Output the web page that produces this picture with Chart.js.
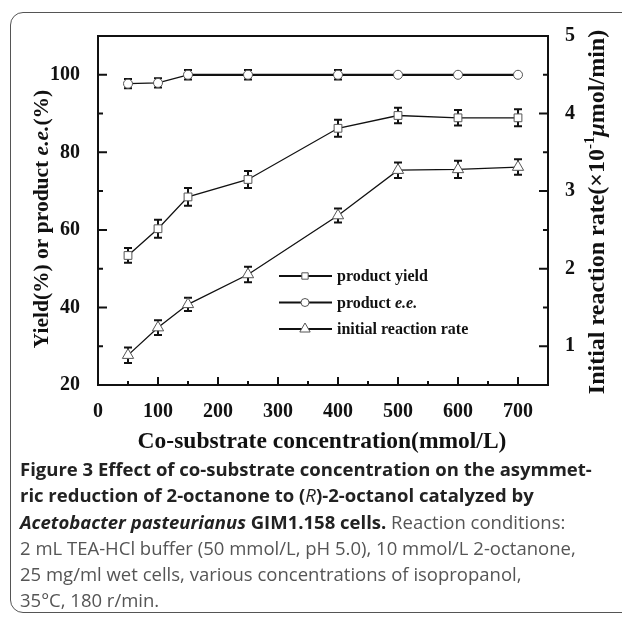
<!DOCTYPE html>
<html>
<head>
<meta charset="utf-8">
<script src="https://cdn.jsdelivr.net/npm/chart.js@4.4.1/dist/chart.umd.min.js"></script>
<style>
  html, body { margin: 0; padding: 0; background: #fff; }
  body { width: 622px; height: 622px; position: relative; overflow: hidden; }
  .card {
    position: absolute; left: 10px; top: 12px; width: 640px; height: 601px;
    border: 1.5px solid #555; border-radius: 13px; box-sizing: border-box;
  }
  .plot { position: absolute; left: 0; top: 0; width: 622px; height: 460px; }
  .caption {
    position: absolute; left: 20px; top: 456px;
    font-family: "Open Sans", sans-serif; font-size: 18.5px; line-height: 26.3px;
    color: #555; white-space: nowrap;
  }
  .caption .b { font-weight: bold; color: #222; }
  .caption .r { font-style: italic; font-weight: normal; }
</style>
</head>
<body>
<div class="card"></div>
<div class="plot"><canvas id="chart" width="622" height="460"></canvas></div>
<div class="caption">
  <div class="b">Figure 3 Effect of co-substrate concentration on the asymmet-</div>
  <div class="b">ric reduction of 2-octanone to (<span class="r">R</span>)-2-octanol catalyzed by</div>
  <div><span class="b"><i>Acetobacter pasteurianus</i> GIM1.158 cells.</span> Reaction conditions:</div>
  <div>2 mL TEA-HCl buffer (50 mmol/L, pH 5.0), 10 mmol/L 2-octanone,</div>
  <div>25 mg/ml wet cells, various concentrations of isopropanol,</div>
  <div>35°C, 180 r/min.</div>
</div>
<script>
// --- data ---
const concentrations = [50, 100, 150, 250, 400, 500, 600, 700];
const yieldValues = [53.4, 60.3, 68.5, 73.0, 86.2, 89.5, 88.9, 88.9];
const yieldErrors = [1.9, 2.3, 2.3, 2.2, 2.2, 2.0, 2.0, 2.2];
const eeValues = [97.7, 97.9, 100, 100, 100, 100, 100, 100];
const eeErrors = [1.2, 1.2, 1.2, 1.2, 1.2, 0, 0, 0];
const rateValues = [0.885, 1.24, 1.54, 1.925, 2.685, 3.27, 3.28, 3.31];
const rateErrors = [0.1, 0.095, 0.085, 0.1, 0.09, 0.1, 0.11, 0.1];

const xLabels = [0, 100, 200, 300, 400, 500, 600, 700];
const leftLabels = [20, 40, 60, 80, 100];
const rightLabels = [1, 2, 3, 4, 5];

const seriesNames = ['product yield', 'product e.e.', 'initial reaction rate'];
const errorSets = [yieldErrors, eeErrors, rateErrors];

const SERIF = '"Liberation Serif", "Times New Roman", serif';
const tickFont = { family: SERIF, size: 20, weight: 'bold' };

const points = (vals) => concentrations.map((c, i) => ({ x: c, y: vals[i] }));

// draws a run of differently styled text pieces centred on (cx, cy)
const drawRich = (ctx, parts, cx, cy, angle) => {
  ctx.save();
  ctx.translate(cx, cy);
  ctx.rotate(angle);
  ctx.textBaseline = 'middle';
  ctx.textAlign = 'left';
  let total = 0;
  parts.forEach(p => { ctx.font = p.font; total += ctx.measureText(p.text).width; });
  let x = -total / 2;
  parts.forEach(p => {
    ctx.font = p.font;
    ctx.fillText(p.text, x, p.dy || 0);
    x += ctx.measureText(p.text).width;
  });
  ctx.restore();
};

const decorations = {
  id: 'decorations',
  beforeDatasetsDraw(chart) {
    const ctx = chart.ctx;
    const xs = chart.scales.x;
    ctx.save();
    ctx.strokeStyle = '#111';
    ctx.lineWidth = 2;
    chart.data.datasets.forEach((ds, di) => {
      const ys = chart.scales[ds.yAxisID];
      const errs = errorSets[di];
      ds.data.forEach((pt, i) => {
        if (!errs[i]) return;
        const px = xs.getPixelForValue(pt.x);
        const top = ys.getPixelForValue(pt.y + errs[i]);
        const bot = ys.getPixelForValue(pt.y - errs[i]);
        ctx.beginPath();
        ctx.moveTo(px, top); ctx.lineTo(px, bot);
        ctx.moveTo(px - 4, top); ctx.lineTo(px + 4, top);
        ctx.moveTo(px - 4, bot); ctx.lineTo(px + 4, bot);
        ctx.stroke();
      });
    });
    ctx.restore();
  },
  afterDraw(chart) {
    const ctx = chart.ctx;
    const area = chart.chartArea;
    const { x: xs, y: yl, y1: yr } = chart.scales;
    ctx.save();
    ctx.strokeStyle = '#111';
    ctx.fillStyle = '#111';
    ctx.lineWidth = 2;

    // top edge of the frame
    ctx.beginPath();
    ctx.moveTo(area.left - 1, area.top);
    ctx.lineTo(area.right + 1, area.top);
    ctx.stroke();

    // inward tick marks
    ctx.beginPath();
    xs.ticks.forEach(t => {
      const p = xs.getPixelForValue(t.value);
      const len = xLabels.includes(t.value) ? 8 : 4;
      ctx.moveTo(p, area.bottom); ctx.lineTo(p, area.bottom - len);
    });
    yl.ticks.forEach(t => {
      const p = yl.getPixelForValue(t.value);
      const len = leftLabels.includes(t.value) ? 9 : 5;
      ctx.moveTo(area.left, p); ctx.lineTo(area.left + len, p);
    });
    yr.ticks.forEach(t => {
      const p = yr.getPixelForValue(t.value);
      const len = rightLabels.includes(t.value) ? 9 : 5;
      ctx.moveTo(area.right, p); ctx.lineTo(area.right - len, p);
    });
    ctx.stroke();

    // axis titles
    const bold = (s) => `bold ${s}px ${SERIF}`;
    const boldIt = (s) => `italic bold ${s}px ${SERIF}`;
    drawRich(ctx, [
      { text: 'Yield(%) or product ', font: bold(21.5) },
      { text: 'e.e.', font: boldIt(21.5) },
      { text: '(%)', font: bold(21.5) }
    ], 42, 219, -Math.PI / 2);
    drawRich(ctx, [
      { text: 'Initial reaction rate(×10', font: bold(24) },
      { text: '-1', font: bold(15), dy: -8 },
      { text: 'μ', font: boldIt(24) },
      { text: 'mol/min)', font: bold(24) }
    ], 598, 212, -Math.PI / 2);
    drawRich(ctx, [
      { text: 'Co-substrate concentration(mmol/L)', font: bold(23.5) }
    ], 322, 442, 0);

    // legend inside the plot
    const lx = area.left + 181, ly = area.top + 240, gap = 26.5;
    chart.data.datasets.forEach((ds, i) => {
      const y = ly + i * gap;
      ctx.strokeStyle = '#111';
      ctx.lineWidth = 2;
      ctx.beginPath();
      ctx.moveTo(lx, y); ctx.lineTo(lx + 53, y);
      ctx.stroke();
      ctx.fillStyle = '#fff';
      ctx.strokeStyle = '#555';
      ctx.lineWidth = 1;
      Chart.helpers.drawPoint(ctx, {
        pointStyle: ds.pointStyle, radius: ds.legendRadius, borderWidth: 1, rotation: 0
      }, lx + 26, y);
      ctx.fillStyle = '#111';
      ctx.textBaseline = 'middle';
      const name = seriesNames[i];
      if (name.endsWith('e.e.')) {
        ctx.font = bold(16);
        ctx.fillText('product ', lx + 58, y + 1);
        const w = ctx.measureText('product ').width;
        ctx.font = boldIt(16);
        ctx.fillText('e.e.', lx + 58 + w, y + 1);
      } else {
        ctx.font = bold(16);
        ctx.fillText(name, lx + 58, y + 1);
      }
    });
    ctx.restore();
  }
};

const baseSet = {
  borderColor: '#111',
  pointBackgroundColor: '#fff',
  pointBorderColor: '#555',
  pointBorderWidth: 1,
  tension: 0,
  fill: false
};

new Chart(document.getElementById('chart'), {
  type: 'line',
  data: {
    datasets: [
      { ...baseSet, label: seriesNames[0], data: points(yieldValues), yAxisID: 'y',
        borderWidth: 1.3, pointStyle: 'rect', pointRadius: 5.5, legendRadius: 4.5 },
      { ...baseSet, label: seriesNames[1], data: points(eeValues), yAxisID: 'y',
        borderWidth: 2.2, pointStyle: 'circle', pointRadius: 4.5, legendRadius: 4,
        segment: { borderWidth: c => (c.p0DataIndex < 2 ? 1.3 : 2.2) } },
      { ...baseSet, label: seriesNames[2], data: points(rateValues), yAxisID: 'y1',
        borderWidth: 1.3, pointStyle: 'triangle', pointRadius: 6.5, legendRadius: 6 }
    ]
  },
  options: {
    responsive: false,
    animation: false,
    layout: { padding: { left: 0, right: 0, top: 36, bottom: 0 } },
    plugins: { legend: { display: false }, tooltip: { enabled: false } },
    scales: {
      x: {
        type: 'linear', min: 0, max: 750,
        grid: { display: false },
        border: { display: true, color: '#111', width: 2 },
        ticks: {
          stepSize: 50, autoSkip: false, maxRotation: 0, padding: 7,
          color: '#111', font: tickFont,
          callback: v => (xLabels.includes(v) ? String(v) : '')
        },
        afterFit: s => { s.height = 75; }
      },
      y: {
        position: 'left', min: 20, max: 110,
        grid: { display: false },
        border: { display: true, color: '#111', width: 2 },
        ticks: {
          stepSize: 10, autoSkip: false, padding: 10,
          color: '#111', font: tickFont,
          callback: v => (leftLabels.includes(v) ? String(v) : '')
        },
        afterFit: s => { s.width = 98; }
      },
      y1: {
        position: 'right', min: 0.5, max: 5,
        grid: { display: false },
        border: { display: true, color: '#111', width: 2 },
        ticks: {
          stepSize: 0.5, autoSkip: false, padding: 9,
          color: '#111', font: tickFont,
          callback: v => (rightLabels.includes(v) ? String(v) : '')
        },
        afterFit: s => { s.width = 74; }
      }
    }
  },
  plugins: [decorations]
});
</script>
</body>
</html>
